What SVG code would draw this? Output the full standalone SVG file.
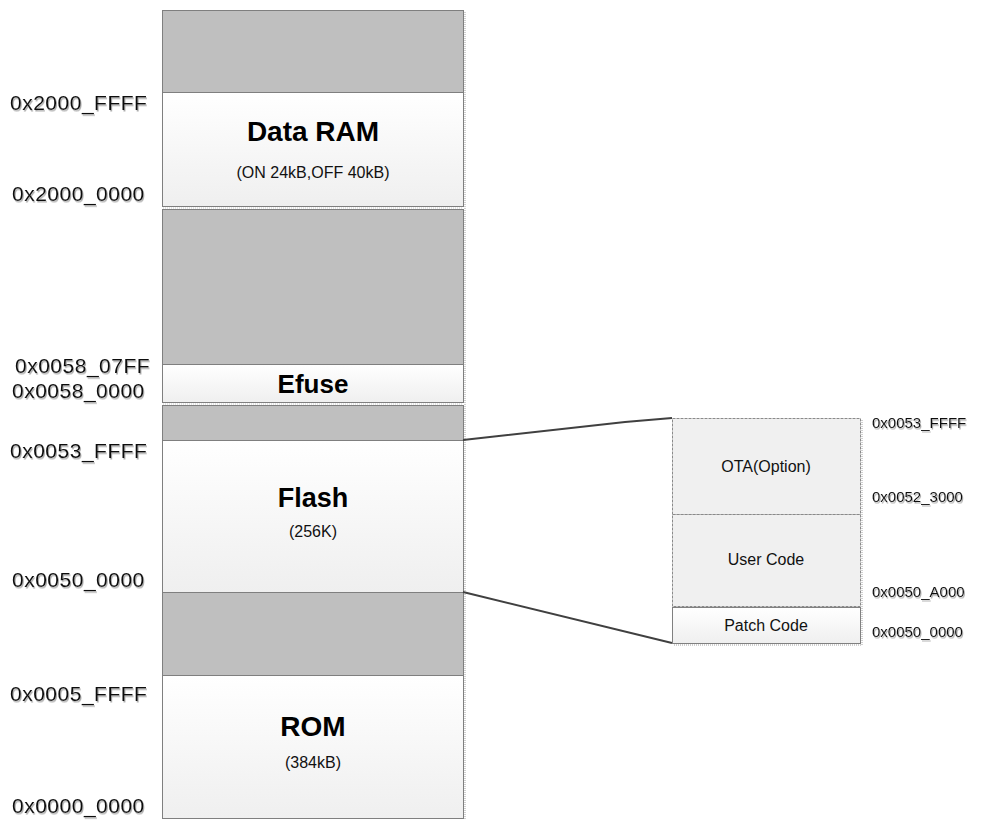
<svg xmlns="http://www.w3.org/2000/svg" width="994" height="820" viewBox="0 0 994 820">
<style>
.gray{fill:#bfbfbf;stroke:#7f7f7f;stroke-width:1}
.white{fill:url(#wg);stroke:#7f7f7f;stroke-width:1}
.addr{font-family:"Liberation Sans",Arial,sans-serif;font-size:21px;letter-spacing:0.5px;fill:#111;filter:url(#sh)}
.raddr{font-family:"Liberation Sans",Arial,sans-serif;font-size:15px;fill:#111;filter:url(#sh)}
.title{font-family:"Liberation Sans",Arial,sans-serif;font-size:28px;font-weight:bold;fill:#000;text-anchor:middle}
.sub{font-family:"Liberation Sans",Arial,sans-serif;font-size:16px;fill:#111;text-anchor:middle}
.rlab{font-family:"Liberation Sans",Arial,sans-serif;font-size:16px;fill:#111;text-anchor:middle}
.conn{fill:none;stroke:#404040;stroke-width:2}
</style>
<defs>
<linearGradient id="wg" x1="0" y1="0" x2="0" y2="1">
<stop offset="0" stop-color="#ffffff"/>
<stop offset="1" stop-color="#efefef"/>
</linearGradient>
<filter id="sh" x="-5%" y="-20%" width="110%" height="150%">
<feDropShadow dx="1" dy="1.5" stdDeviation="0.6" flood-color="#999" flood-opacity="0.8"/>
</filter>
</defs>
<rect width="994" height="820" fill="#ffffff"/>
<line x1="465" y1="12" x2="465" y2="819" stroke="#d0d0d0" stroke-width="2" stroke-dasharray="1,1"/>
<g id="reserved-top"><rect class="gray" x="162.5" y="10.5" width="301" height="82"/></g>
<g id="data-ram">
<rect class="white" x="162.5" y="92.5" width="301" height="114"/>
<text class="title" x="313" y="141">Data RAM</text>
<text class="sub" x="313" y="178">(ON 24kB,OFF 40kB)</text>
</g>
<line x1="163" y1="208" x2="463" y2="208" stroke="#c8c8c8" stroke-width="1" stroke-dasharray="1,1"/>
<g id="reserved-2"><rect class="gray" x="162.5" y="209.5" width="301" height="155"/></g>
<g id="efuse">
<rect class="white" x="162.5" y="364.5" width="301" height="38"/>
<text class="title" x="313" y="393" style="font-size:26px">Efuse</text>
</g>
<line x1="163" y1="404" x2="463" y2="404" stroke="#c8c8c8" stroke-width="1" stroke-dasharray="1,1"/>
<g id="reserved-3"><rect class="gray" x="162.5" y="405.5" width="301" height="35"/></g>
<g id="flash">
<rect class="white" x="162.5" y="440.5" width="301" height="152"/>
<text class="title" x="313" y="507" style="font-size:27px">Flash</text>
<text class="sub" x="313" y="537">(256K)</text>
</g>
<g id="reserved-4"><rect class="gray" x="162.5" y="592.5" width="301" height="83"/></g>
<g id="rom">
<rect class="white" x="162.5" y="675.5" width="301" height="143"/>
<text class="title" x="313" y="736">ROM</text>
<text class="sub" x="313" y="768">(384kB)</text>
</g>
<g id="left-addresses">
<text class="addr" x="10" y="110">0x2000_FFFF</text>
<text class="addr" x="12" y="201">0x2000_0000</text>
<text class="addr" x="15" y="373">0x0058_07FF</text>
<text class="addr" x="12" y="398">0x0058_0000</text>
<text class="addr" x="10" y="458">0x0053_FFFF</text>
<text class="addr" x="12" y="587">0x0050_0000</text>
<text class="addr" x="10" y="701">0x0005_FFFF</text>
<text class="addr" x="12" y="813">0x0000_0000</text>
</g>
<g id="connectors">
<path class="conn" d="M463,440 L625,422 L672,418"/>
<path class="conn" d="M463,592 L672,643"/>
</g>
<line x1="862" y1="420" x2="862" y2="645" stroke="#d0d0d0" stroke-width="2" stroke-dasharray="1,1"/>
<line x1="674" y1="645" x2="862" y2="645" stroke="#d0d0d0" stroke-width="2" stroke-dasharray="1,1"/>
<g id="ota">
<rect x="672.5" y="418.5" width="188" height="96" fill="#f0f0f0" stroke="#8a8a8a" stroke-width="1" stroke-dasharray="3,1"/>
<text class="rlab" x="766" y="472">OTA(Option)</text>
</g>
<g id="user-code">
<rect x="672.5" y="514.5" width="188" height="92" fill="#f0f0f0" stroke="#8a8a8a" stroke-width="1" stroke-dasharray="3,1"/>
<text class="rlab" x="766" y="565">User Code</text>
</g>
<g id="patch-code">
<rect x="672.5" y="607.5" width="188" height="36" fill="url(#wg)" stroke="#808080" stroke-width="1"/>
<text class="rlab" x="766" y="631">Patch Code</text>
</g>
<g id="right-addresses">
<text class="raddr" x="872" y="428">0x0053_FFFF</text>
<text class="raddr" x="872" y="502">0x0052_3000</text>
<text class="raddr" x="872" y="597">0x0050_A000</text>
<text class="raddr" x="872" y="637">0x0050_0000</text>
</g>
</svg>
